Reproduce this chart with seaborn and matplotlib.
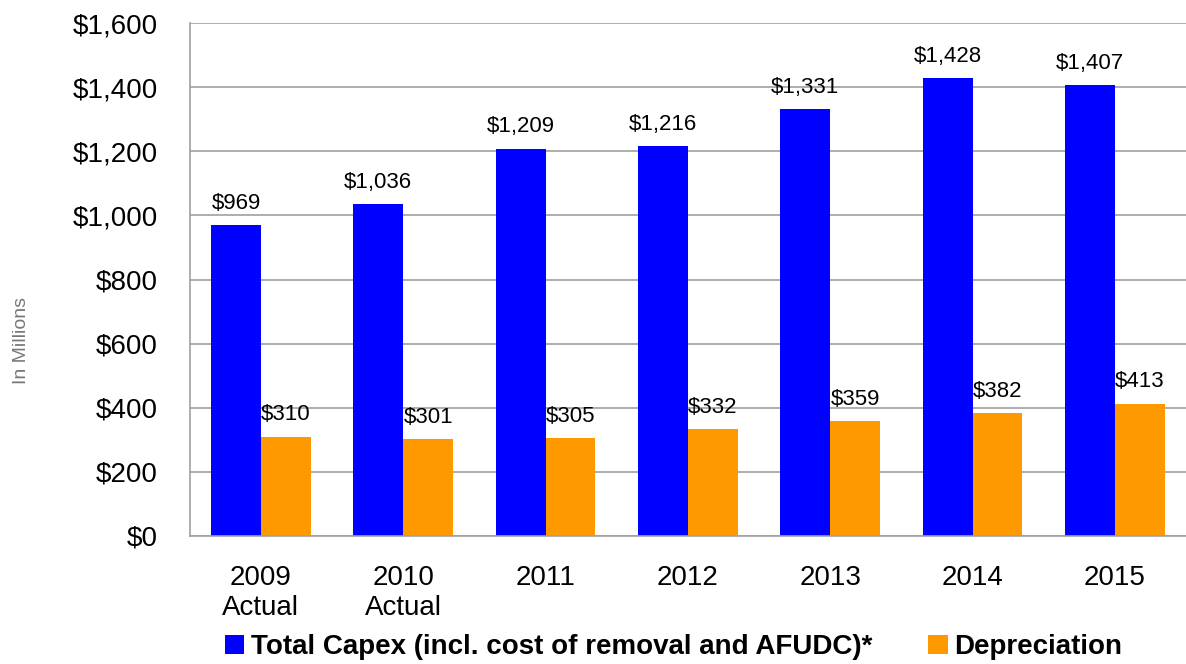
import matplotlib
matplotlib.use("Agg")
import matplotlib.pyplot as plt
import seaborn as sns
import pandas as pd
from matplotlib.patches import Patch
from matplotlib.ticker import FuncFormatter, MultipleLocator

# Chart data
years = ["2009\nActual", "2010\nActual", "2011", "2012", "2013", "2014", "2015"]
capex = [969, 1036, 1209, 1216, 1331, 1428, 1407]
depreciation = [310, 301, 305, 332, 359, 382, 413]
series_names = ["Total Capex (incl. cost of removal and AFUDC)*", "Depreciation"]
colors = ["#0000FF", "#FF9900"]

df = pd.DataFrame({
    "year": years * 2,
    "value": capex + depreciation,
    "series": [series_names[0]] * len(years) + [series_names[1]] * len(years),
})

sns.set_theme(style="white")
plt.rcParams["font.family"] = ["Liberation Sans", "DejaVu Sans"]
plt.rcParams["text.color"] = "black"

fig = plt.figure(figsize=(11.86, 6.64), dpi=100)
ax = fig.add_axes([0.160, 0.193, 0.840, 0.772])

sns.barplot(data=df, x="year", y="value", hue="series", order=years,
            hue_order=series_names, palette=colors, width=0.7,
            saturation=1, ax=ax, legend=False, linewidth=0)

ax.set_ylim(0, 1600)
ax.set_xlim(-0.5, len(years) - 0.5)
ax.yaxis.set_major_locator(MultipleLocator(200))
ax.yaxis.set_major_formatter(FuncFormatter(lambda v, p: f"${v:,.0f}"))
ax.grid(axis="y", color="#a0a0a0", linewidth=1.2)
ax.set_axisbelow(True)
for side in ["top", "right"]:
    ax.spines[side].set_visible(False)
for side in ["left", "bottom"]:
    ax.spines[side].set_color("#a0a0a0")
    ax.spines[side].set_linewidth(1.2)

ax.tick_params(axis="y", labelsize=20, pad=23, length=0, colors="black")
ax.tick_params(axis="x", labelsize=20, pad=21, length=0, colors="black")
for lbl in ax.get_xticklabels():
    lbl.set_linespacing(1.2)
ax.set_xlabel("")
ax.set_ylabel("")
fig.text(0.018, 0.487, "In Millions", rotation=90, fontsize=14, color="#777777",
         ha="center", va="center")

# Value labels above each bar
for container in ax.containers:
    ax.bar_label(container, labels=[f"${v:,.0f}" for v in container.datavalues],
                 padding=8, fontsize=16, color="black")

handles = [Patch(facecolor=c, edgecolor="none") for c in colors]
fig.legend(handles, series_names, loc="center", bbox_to_anchor=(0.568, 0.025),
           ncol=2, frameon=False, handlelength=0.7, handleheight=0.7,
           handletextpad=0.25, columnspacing=2.0, labelcolor="black",
           prop={"weight": "bold", "size": 20})

fig.savefig("out.png", dpi=100)
